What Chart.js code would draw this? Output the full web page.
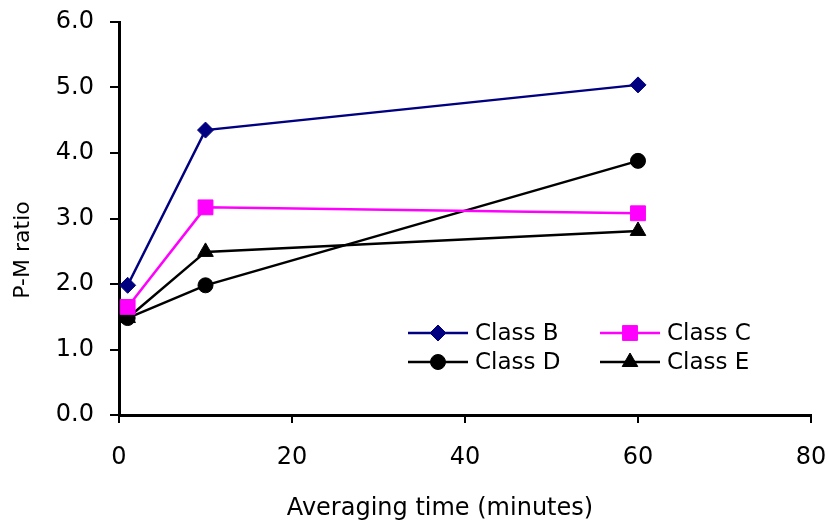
<!DOCTYPE html>
<html>
<head>
<meta charset="utf-8">
<script src="https://cdn.jsdelivr.net/npm/chart.js@4"></script>
<style>
  html, body { margin: 0; padding: 0; background: #fff; }
  #wrap { width: 829px; height: 525px; }
</style>
</head>
<body>
<div id="wrap"><canvas id="c" width="829" height="525"></canvas></div>
<script>
// averaging time (minutes)
const times = [1, 10, 60];
const classB = [1.98, 4.35, 5.04];
const classC = [1.65, 3.17, 3.08];
const classD = [1.48, 1.98, 3.88];
const classE = [1.48, 2.49, 2.81];
const xTicks = [0, 20, 40, 60, 80];
const yTicks = [0, 1, 2, 3, 4, 5, 6];
const xTitle = 'Averaging time (minutes)';
const yTitle = 'P-M ratio';

const FONT = '"DejaVu Sans", sans-serif';

function pts(vals){ return times.map((t, i) => ({x: t, y: vals[i]})); }

const series = [
  {label: 'Class B', data: classB, color: '#000080', style: 'rectRot', r: 8},
  {label: 'Class C', data: classC, color: '#ff00ff', style: 'rect', r: 10.5},
  {label: 'Class D', data: classD, color: '#000000', style: 'circle', r: 7.5},
  {label: 'Class E', data: classE, color: '#000000', style: 'triangle', r: 9}
];

// legend inside the plot, two columns, plus the axis titles placed as in the original
const extras = {
  id: 'extras',
  afterDraw(chart){
    const ctx = chart.ctx;
    const cols = [408, 600];
    const rows = [333, 362];
    chart.data.datasets.forEach((ds, i) => {
      const x = cols[i % 2], y = rows[Math.floor(i / 2)];
      ctx.save();
      ctx.strokeStyle = ds.borderColor;
      ctx.fillStyle = ds.backgroundColor;
      ctx.lineWidth = 2.5;
      ctx.beginPath(); ctx.moveTo(x, y); ctx.lineTo(x + 60, y); ctx.stroke();
      ctx.lineWidth = 1;
      Chart.helpers.drawPoint(ctx, {pointStyle: ds.pointStyle, radius: ds.pointRadius, borderWidth: 1}, x + 30, y);
      ctx.fillStyle = '#000';
      ctx.font = '23px ' + FONT;
      ctx.textBaseline = 'middle';
      ctx.fillText(ds.label, x + 67, y + 1);
      ctx.restore();
    });
    ctx.save();
    ctx.fillStyle = '#000';
    ctx.textAlign = 'center';
    ctx.textBaseline = 'middle';
    ctx.font = '24px ' + FONT;
    ctx.fillText(xTitle, 440, 509);
    ctx.translate(23, 250);
    ctx.rotate(-Math.PI / 2);
    ctx.font = '22px ' + FONT;
    ctx.fillText(yTitle, 0, 0);
    ctx.restore();
  }
};

new Chart(document.getElementById('c'), {
  type: 'scatter',
  data: {
    datasets: series.map(s => ({
      label: s.label,
      data: pts(s.data),
      showLine: true,
      borderColor: s.color,
      backgroundColor: s.color,
      borderWidth: 2.5,
      pointBorderWidth: 1,
      pointStyle: s.style,
      pointRadius: s.r,
      pointHoverRadius: s.r
    }))
  },
  options: {
    responsive: false,
    animation: false,
    layout: {padding: {top: 22, right: 18, left: 0, bottom: 0}},
    plugins: {legend: {display: false}, tooltip: {enabled: false}},
    scales: {
      x: {
        type: 'linear', min: 0, max: 80,
        afterBuildTicks: s => { s.ticks = xTicks.map(v => ({value: v})); },
        afterFit: s => { s.height = 110; s.paddingLeft = 0; s.paddingRight = 0; },
        grid: {drawOnChartArea: false, color: '#000', tickLength: 8, lineWidth: 2},
        border: {color: '#000', width: 3},
        ticks: {color: '#000', font: {family: FONT, size: 24}, padding: 20}
      },
      y: {
        type: 'linear', min: 0, max: 6,
        afterBuildTicks: s => { s.ticks = yTicks.map(v => ({value: v})); },
        afterFit: s => { s.width = 119; s.paddingTop = 0; s.paddingBottom = 0; },
        grid: {drawOnChartArea: false, color: '#000', tickLength: 9, lineWidth: 2},
        border: {color: '#000', width: 3},
        ticks: {color: '#000', font: {family: FONT, size: 24}, padding: 16, callback: v => v.toFixed(1)}
      }
    }
  },
  plugins: [extras]
});
</script>
</body>
</html>
